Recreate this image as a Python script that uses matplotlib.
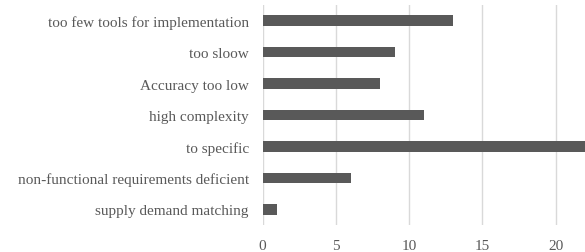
import matplotlib
matplotlib.use("Agg")
import matplotlib.pyplot as plt

# reasons, top to bottom as shown in the chart
reasons = ["too few tools for implementation", "too sloow", "Accuracy too low",
           "high complexity", "to specific",
           "non-functional requirements deficient", "supply demand matching"]
counts = [13, 9, 8, 11, 22, 6, 1]
xticks = [0, 5, 10, 15, 20]

plt.rcParams['font.family'] = ['Liberation Serif', 'DejaVu Serif']

fig = plt.figure(figsize=(5.85, 2.53), dpi=100)
ax = fig.add_axes([0.449, 0.1067, 0.551, 0.8696])

pos = list(range(len(reasons)))
ax.barh(pos, counts, height=0.34, color='#595959', zorder=3)
ax.set_yticks(pos)
ax.set_yticklabels(reasons)
ax.set_ylim(len(reasons) - 0.5, -0.5)
ax.set_xlim(0, 22)
ax.set_xticks(xticks)

ax.grid(axis='x', color='#d9d9d9', linewidth=1, zorder=0)
for s in ax.spines.values():
    s.set_visible(False)
ax.tick_params(axis='both', length=0, labelsize=11, colors='#595959')
ax.tick_params(axis='y', pad=10)
ax.tick_params(axis='x', pad=10)

fig.savefig('out.png', dpi=100)
